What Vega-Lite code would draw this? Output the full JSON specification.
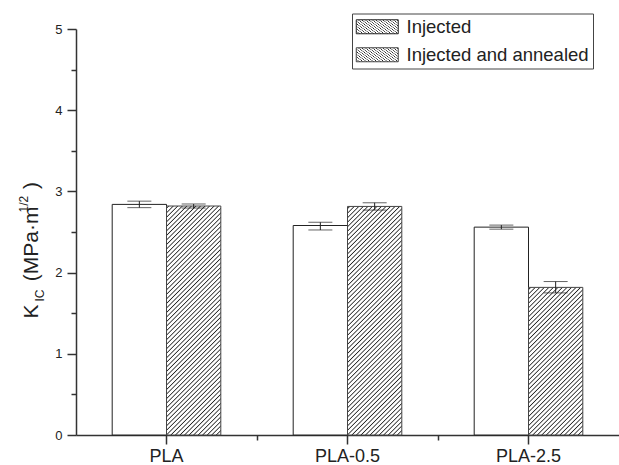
{
  "$schema": "https://vega.github.io/schema/vega-lite/v6.json",
  "width": 543,
  "height": 406,
  "autosize": "none",
  "padding": {"left": 76, "top": 29, "right": 0, "bottom": 30},
  "background": "white",
  "config": {
    "view": {"stroke": null},
    "font": "Liberation Sans",
    "axis": {"labelFont": "Liberation Sans", "titleFont": "Liberation Sans", "labelColor": "#222", "titleColor": "#222", "tickColor": "#333", "domainColor": "#333", "grid": false, "titleFontWeight": "normal"}
  },
  "data": {
    "values": [
      {"group": "PLA", "series": "Injected", "value": 2.84, "lo": 2.80, "hi": 2.88},
      {"group": "PLA", "series": "Injected and annealed", "value": 2.82, "lo": 2.795, "hi": 2.845},
      {"group": "PLA-0.5", "series": "Injected", "value": 2.58, "lo": 2.525, "hi": 2.62},
      {"group": "PLA-0.5", "series": "Injected and annealed", "value": 2.815, "lo": 2.77, "hi": 2.86},
      {"group": "PLA-2.5", "series": "Injected", "value": 2.56, "lo": 2.535, "hi": 2.585},
      {"group": "PLA-2.5", "series": "Injected and annealed", "value": 1.818, "lo": 1.75, "hi": 1.89}
    ]
  },
  "resolve": {"scale": {"x": "independent", "y": "independent"}, "axis": {"x": "independent", "y": "independent"}},
  "layer": [
    {
      "layer": [
        {
          "mark": {"type": "bar", "strokeWidth": 1},
          "encoding": {
            "x": {"field": "group", "type": "nominal", "scale": {"domain": ["PLA", "PLA-0.5", "PLA-2.5"], "paddingInner": 0.4, "paddingOuter": 0.2},
              "axis": {"title": null, "orient": "bottom", "labelFontSize": 18, "labelAngle": 0, "labelPadding": 3, "tickSize": 9, "tickWidth": 1.5, "domainWidth": 1.5}},
            "xOffset": {"field": "series", "type": "nominal", "scale": {"domain": ["Injected", "Injected and annealed"], "paddingInner": 0, "paddingOuter": 0}},
            "y": {"field": "value", "type": "quantitative", "scale": {"domain": [0, 5], "nice": false, "zero": true},
              "axis": {"orient": "left", "values": [0, 1, 2, 3, 4, 5], "format": "d", "labelFontSize": 13, "labelPadding": 5, "tickSize": 9, "tickWidth": 1.5, "domainWidth": 1.5,
                "title": "K\u00a0\u00a0\u00a0\u00a0(MPa·m\u00a0\u00a0\u00a0)", "titleFontSize": 21, "titleAngle": 270, "titleAlign": "left", "titleBaseline": "alphabetic", "titleX": -39, "titleY": 289}},
            "stroke": {"field": "series", "type": "nominal", "scale": {"domain": ["Injected", "Injected and annealed"], "range": ["#222222", "#444444"]},
              "legend": {"title": null, "orient": "none", "legendX": 276, "legendY": -15.5, "direction": "vertical", "padding": 4, "strokeColor": "#444", "fillColor": "white", "cornerRadius": 0,
                "labelFont": "Liberation Sans", "labelFontSize": 18.5, "labelColor": "#222", "labelLimit": 400, "symbolType": "M-3,-1H3V1H-3Z", "symbolSize": 196, "symbolStrokeWidth": 1, "symbolFillColor": "#ffffff", "symbolOffset": 12, "labelOffset": 20, "rowPadding": 9,
                "encode": {"symbols": {
                  "fill": {"value": "#ffffff"},
                  "stroke": {"value": "#333333"},
                  "shape": {"condition": {"test": "datum.value === 'Injected and annealed'", "value": "M-3,-1H3V1H-3Z M-3,-0.57L-2.57,-1 M-3,0.14L-1.86,-1 M-3,0.86L-1.14,-1 M-2.43,1L-0.43,-1 M-1.71,1L0.29,-1 M-1,1L1,-1 M-0.29,1L1.71,-1 M0.43,1L2.43,-1 M1.14,1L3,-0.86 M1.86,1L3,-0.14 M2.57,1L3,0.57"}, "value": "M-3,-1H3V1H-3Z"}
                }}}},
            "fill": {
              "condition": [
                {"test": "datum.series === 'Injected'", "value": "#ffffff"},
                {"test": "datum.group === 'PLA-2.5'", "value": {"gradient": "linear", "x1": 0, "y1": 0, "x2": 0.62194, "y2": 1.69062, "stops": [
{"offset":0.004,"color":"#fff"},{"offset":0.008,"color":"#222"},{"offset":0.012,"color":"#fff"},
{"offset":0.020,"color":"#fff"},{"offset":0.024,"color":"#222"},{"offset":0.028,"color":"#fff"},
{"offset":0.036,"color":"#fff"},{"offset":0.040,"color":"#222"},{"offset":0.044,"color":"#fff"},
{"offset":0.052,"color":"#fff"},{"offset":0.056,"color":"#222"},{"offset":0.060,"color":"#fff"},
{"offset":0.068,"color":"#fff"},{"offset":0.072,"color":"#222"},{"offset":0.076,"color":"#fff"},
{"offset":0.084,"color":"#fff"},{"offset":0.088,"color":"#222"},{"offset":0.092,"color":"#fff"},
{"offset":0.100,"color":"#fff"},{"offset":0.104,"color":"#222"},{"offset":0.108,"color":"#fff"},
{"offset":0.116,"color":"#fff"},{"offset":0.120,"color":"#222"},{"offset":0.124,"color":"#fff"},
{"offset":0.132,"color":"#fff"},{"offset":0.136,"color":"#222"},{"offset":0.140,"color":"#fff"},
{"offset":0.148,"color":"#fff"},{"offset":0.152,"color":"#222"},{"offset":0.156,"color":"#fff"},
{"offset":0.164,"color":"#fff"},{"offset":0.168,"color":"#222"},{"offset":0.172,"color":"#fff"},
{"offset":0.180,"color":"#fff"},{"offset":0.184,"color":"#222"},{"offset":0.188,"color":"#fff"},
{"offset":0.196,"color":"#fff"},{"offset":0.200,"color":"#222"},{"offset":0.204,"color":"#fff"},
{"offset":0.212,"color":"#fff"},{"offset":0.216,"color":"#222"},{"offset":0.220,"color":"#fff"},
{"offset":0.228,"color":"#fff"},{"offset":0.232,"color":"#222"},{"offset":0.236,"color":"#fff"},
{"offset":0.244,"color":"#fff"},{"offset":0.248,"color":"#222"},{"offset":0.252,"color":"#fff"},
{"offset":0.260,"color":"#fff"},{"offset":0.264,"color":"#222"},{"offset":0.268,"color":"#fff"},
{"offset":0.276,"color":"#fff"},{"offset":0.280,"color":"#222"},{"offset":0.284,"color":"#fff"},
{"offset":0.292,"color":"#fff"},{"offset":0.296,"color":"#222"},{"offset":0.300,"color":"#fff"},
{"offset":0.308,"color":"#fff"},{"offset":0.312,"color":"#222"},{"offset":0.316,"color":"#fff"},
{"offset":0.324,"color":"#fff"},{"offset":0.328,"color":"#222"},{"offset":0.332,"color":"#fff"},
{"offset":0.340,"color":"#fff"},{"offset":0.344,"color":"#222"},{"offset":0.348,"color":"#fff"},
{"offset":0.356,"color":"#fff"},{"offset":0.360,"color":"#222"},{"offset":0.364,"color":"#fff"},
{"offset":0.372,"color":"#fff"},{"offset":0.376,"color":"#222"},{"offset":0.380,"color":"#fff"},
{"offset":0.388,"color":"#fff"},{"offset":0.392,"color":"#222"},{"offset":0.396,"color":"#fff"},
{"offset":0.404,"color":"#fff"},{"offset":0.408,"color":"#222"},{"offset":0.412,"color":"#fff"},
{"offset":0.420,"color":"#fff"},{"offset":0.424,"color":"#222"},{"offset":0.428,"color":"#fff"},
{"offset":0.436,"color":"#fff"},{"offset":0.440,"color":"#222"},{"offset":0.444,"color":"#fff"},
{"offset":0.452,"color":"#fff"},{"offset":0.456,"color":"#222"},{"offset":0.460,"color":"#fff"},
{"offset":0.468,"color":"#fff"},{"offset":0.472,"color":"#222"},{"offset":0.476,"color":"#fff"},
{"offset":0.484,"color":"#fff"},{"offset":0.488,"color":"#222"},{"offset":0.492,"color":"#fff"},
{"offset":0.500,"color":"#fff"},{"offset":0.504,"color":"#222"},{"offset":0.508,"color":"#fff"},
{"offset":0.516,"color":"#fff"},{"offset":0.520,"color":"#222"},{"offset":0.524,"color":"#fff"},
{"offset":0.532,"color":"#fff"},{"offset":0.536,"color":"#222"},{"offset":0.540,"color":"#fff"},
{"offset":0.548,"color":"#fff"},{"offset":0.552,"color":"#222"},{"offset":0.556,"color":"#fff"},
{"offset":0.564,"color":"#fff"},{"offset":0.568,"color":"#222"},{"offset":0.572,"color":"#fff"},
{"offset":0.580,"color":"#fff"},{"offset":0.584,"color":"#222"},{"offset":0.588,"color":"#fff"},
{"offset":0.596,"color":"#fff"},{"offset":0.600,"color":"#222"},{"offset":0.604,"color":"#fff"},
{"offset":0.612,"color":"#fff"},{"offset":0.616,"color":"#222"},{"offset":0.620,"color":"#fff"},
{"offset":0.628,"color":"#fff"},{"offset":0.632,"color":"#222"},{"offset":0.636,"color":"#fff"},
{"offset":0.644,"color":"#fff"},{"offset":0.648,"color":"#222"},{"offset":0.652,"color":"#fff"},
{"offset":0.660,"color":"#fff"},{"offset":0.664,"color":"#222"},{"offset":0.668,"color":"#fff"},
{"offset":0.676,"color":"#fff"},{"offset":0.680,"color":"#222"},{"offset":0.684,"color":"#fff"},
{"offset":0.692,"color":"#fff"},{"offset":0.696,"color":"#222"},{"offset":0.700,"color":"#fff"},
{"offset":0.708,"color":"#fff"},{"offset":0.712,"color":"#222"},{"offset":0.716,"color":"#fff"},
{"offset":0.724,"color":"#fff"},{"offset":0.728,"color":"#222"},{"offset":0.732,"color":"#fff"}
                ]}}
              ],
              "value": {"gradient": "linear", "x1": 0, "y1": 0, "x2": 0.27773, "y2": 1.17129, "stops": [
{"offset":0.004,"color":"#fff"},{"offset":0.008,"color":"#222"},{"offset":0.012,"color":"#fff"},
{"offset":0.020,"color":"#fff"},{"offset":0.024,"color":"#222"},{"offset":0.028,"color":"#fff"},
{"offset":0.036,"color":"#fff"},{"offset":0.040,"color":"#222"},{"offset":0.044,"color":"#fff"},
{"offset":0.052,"color":"#fff"},{"offset":0.056,"color":"#222"},{"offset":0.060,"color":"#fff"},
{"offset":0.068,"color":"#fff"},{"offset":0.072,"color":"#222"},{"offset":0.076,"color":"#fff"},
{"offset":0.084,"color":"#fff"},{"offset":0.088,"color":"#222"},{"offset":0.092,"color":"#fff"},
{"offset":0.100,"color":"#fff"},{"offset":0.104,"color":"#222"},{"offset":0.108,"color":"#fff"},
{"offset":0.116,"color":"#fff"},{"offset":0.120,"color":"#222"},{"offset":0.124,"color":"#fff"},
{"offset":0.132,"color":"#fff"},{"offset":0.136,"color":"#222"},{"offset":0.140,"color":"#fff"},
{"offset":0.148,"color":"#fff"},{"offset":0.152,"color":"#222"},{"offset":0.156,"color":"#fff"},
{"offset":0.164,"color":"#fff"},{"offset":0.168,"color":"#222"},{"offset":0.172,"color":"#fff"},
{"offset":0.180,"color":"#fff"},{"offset":0.184,"color":"#222"},{"offset":0.188,"color":"#fff"},
{"offset":0.196,"color":"#fff"},{"offset":0.200,"color":"#222"},{"offset":0.204,"color":"#fff"},
{"offset":0.212,"color":"#fff"},{"offset":0.216,"color":"#222"},{"offset":0.220,"color":"#fff"},
{"offset":0.228,"color":"#fff"},{"offset":0.232,"color":"#222"},{"offset":0.236,"color":"#fff"},
{"offset":0.244,"color":"#fff"},{"offset":0.248,"color":"#222"},{"offset":0.252,"color":"#fff"},
{"offset":0.260,"color":"#fff"},{"offset":0.264,"color":"#222"},{"offset":0.268,"color":"#fff"},
{"offset":0.276,"color":"#fff"},{"offset":0.280,"color":"#222"},{"offset":0.284,"color":"#fff"},
{"offset":0.292,"color":"#fff"},{"offset":0.296,"color":"#222"},{"offset":0.300,"color":"#fff"},
{"offset":0.308,"color":"#fff"},{"offset":0.312,"color":"#222"},{"offset":0.316,"color":"#fff"},
{"offset":0.324,"color":"#fff"},{"offset":0.328,"color":"#222"},{"offset":0.332,"color":"#fff"},
{"offset":0.340,"color":"#fff"},{"offset":0.344,"color":"#222"},{"offset":0.348,"color":"#fff"},
{"offset":0.356,"color":"#fff"},{"offset":0.360,"color":"#222"},{"offset":0.364,"color":"#fff"},
{"offset":0.372,"color":"#fff"},{"offset":0.376,"color":"#222"},{"offset":0.380,"color":"#fff"},
{"offset":0.388,"color":"#fff"},{"offset":0.392,"color":"#222"},{"offset":0.396,"color":"#fff"},
{"offset":0.404,"color":"#fff"},{"offset":0.408,"color":"#222"},{"offset":0.412,"color":"#fff"},
{"offset":0.420,"color":"#fff"},{"offset":0.424,"color":"#222"},{"offset":0.428,"color":"#fff"},
{"offset":0.436,"color":"#fff"},{"offset":0.440,"color":"#222"},{"offset":0.444,"color":"#fff"},
{"offset":0.452,"color":"#fff"},{"offset":0.456,"color":"#222"},{"offset":0.460,"color":"#fff"},
{"offset":0.468,"color":"#fff"},{"offset":0.472,"color":"#222"},{"offset":0.476,"color":"#fff"},
{"offset":0.484,"color":"#fff"},{"offset":0.488,"color":"#222"},{"offset":0.492,"color":"#fff"},
{"offset":0.500,"color":"#fff"},{"offset":0.504,"color":"#222"},{"offset":0.508,"color":"#fff"},
{"offset":0.516,"color":"#fff"},{"offset":0.520,"color":"#222"},{"offset":0.524,"color":"#fff"},
{"offset":0.532,"color":"#fff"},{"offset":0.536,"color":"#222"},{"offset":0.540,"color":"#fff"},
{"offset":0.548,"color":"#fff"},{"offset":0.552,"color":"#222"},{"offset":0.556,"color":"#fff"},
{"offset":0.564,"color":"#fff"},{"offset":0.568,"color":"#222"},{"offset":0.572,"color":"#fff"},
{"offset":0.580,"color":"#fff"},{"offset":0.584,"color":"#222"},{"offset":0.588,"color":"#fff"},
{"offset":0.596,"color":"#fff"},{"offset":0.600,"color":"#222"},{"offset":0.604,"color":"#fff"},
{"offset":0.612,"color":"#fff"},{"offset":0.616,"color":"#222"},{"offset":0.620,"color":"#fff"},
{"offset":0.628,"color":"#fff"},{"offset":0.632,"color":"#222"},{"offset":0.636,"color":"#fff"},
{"offset":0.644,"color":"#fff"},{"offset":0.648,"color":"#222"},{"offset":0.652,"color":"#fff"},
{"offset":0.660,"color":"#fff"},{"offset":0.664,"color":"#222"},{"offset":0.668,"color":"#fff"},
{"offset":0.676,"color":"#fff"},{"offset":0.680,"color":"#222"},{"offset":0.684,"color":"#fff"},
{"offset":0.692,"color":"#fff"},{"offset":0.696,"color":"#222"},{"offset":0.700,"color":"#fff"},
{"offset":0.708,"color":"#fff"},{"offset":0.712,"color":"#222"},{"offset":0.716,"color":"#fff"},
{"offset":0.724,"color":"#fff"},{"offset":0.728,"color":"#222"},{"offset":0.732,"color":"#fff"},
{"offset":0.740,"color":"#fff"},{"offset":0.744,"color":"#222"},{"offset":0.748,"color":"#fff"},
{"offset":0.756,"color":"#fff"},{"offset":0.760,"color":"#222"},{"offset":0.764,"color":"#fff"},
{"offset":0.772,"color":"#fff"},{"offset":0.776,"color":"#222"},{"offset":0.780,"color":"#fff"},
{"offset":0.788,"color":"#fff"},{"offset":0.792,"color":"#222"},{"offset":0.796,"color":"#fff"},
{"offset":0.804,"color":"#fff"},{"offset":0.808,"color":"#222"},{"offset":0.812,"color":"#fff"},
{"offset":0.820,"color":"#fff"},{"offset":0.824,"color":"#222"},{"offset":0.828,"color":"#fff"},
{"offset":0.836,"color":"#fff"},{"offset":0.840,"color":"#222"},{"offset":0.844,"color":"#fff"},
{"offset":0.852,"color":"#fff"},{"offset":0.856,"color":"#222"},{"offset":0.860,"color":"#fff"},
{"offset":0.868,"color":"#fff"},{"offset":0.872,"color":"#222"},{"offset":0.876,"color":"#fff"},
{"offset":0.884,"color":"#fff"},{"offset":0.888,"color":"#222"},{"offset":0.892,"color":"#fff"},
{"offset":0.900,"color":"#fff"},{"offset":0.904,"color":"#222"},{"offset":0.908,"color":"#fff"},
{"offset":0.916,"color":"#fff"},{"offset":0.920,"color":"#222"},{"offset":0.924,"color":"#fff"},
{"offset":0.932,"color":"#fff"},{"offset":0.936,"color":"#222"},{"offset":0.940,"color":"#fff"},
{"offset":0.948,"color":"#fff"},{"offset":0.952,"color":"#222"},{"offset":0.956,"color":"#fff"},
{"offset":0.964,"color":"#fff"},{"offset":0.968,"color":"#222"},{"offset":0.972,"color":"#fff"},
{"offset":0.980,"color":"#fff"},{"offset":0.984,"color":"#222"},{"offset":0.988,"color":"#fff"}
              ]}
            }
          }
        },
        {
          "mark": {"type": "rule", "color": "#222", "strokeWidth": 1},
          "encoding": {
            "x": {"field": "group", "type": "nominal"},
            "xOffset": {"field": "series", "type": "nominal"},
            "y": {"field": "lo", "type": "quantitative"},
            "y2": {"field": "hi"}
          }
        },
        {
          "mark": {"type": "tick", "color": "#222", "thickness": 1, "size": 24, "orient": "horizontal"},
          "encoding": {
            "x": {"field": "group", "type": "nominal"},
            "xOffset": {"field": "series", "type": "nominal"},
            "y": {"field": "lo", "type": "quantitative"}
          }
        },
        {
          "mark": {"type": "tick", "color": "#222", "thickness": 1, "size": 24, "orient": "horizontal"},
          "encoding": {
            "x": {"field": "group", "type": "nominal"},
            "xOffset": {"field": "series", "type": "nominal"},
            "y": {"field": "hi", "type": "quantitative"}
          }
        }
      ]
    },
    {
      "mark": {"type": "point", "opacity": 0},
      "encoding": {
        "x": {"datum": 1, "type": "quantitative", "scale": {"domain": [-0.5, 2.5], "nice": false, "zero": false},
          "axis": {"orient": "bottom", "values": [0.5, 1.5], "labels": false, "domain": false, "tickSize": 5, "tickWidth": 1.5,
            "title": "1/2", "titleFontSize": 12, "titleAngle": 270, "titleAlign": "left", "titleBaseline": "alphabetic", "titleX": -49, "titleY": -223}},
        "y": {"datum": 1, "type": "quantitative", "scale": {"domain": [0, 5], "nice": false, "zero": false},
          "axis": {"orient": "left", "values": [0.5, 1.5, 2.5, 3.5, 4.5], "labels": false, "domain": false, "tickSize": 5, "tickWidth": 1.5,
            "title": "IC", "titleFontSize": 12, "titleAngle": 270, "titleAlign": "left", "titleBaseline": "alphabetic", "titleX": -33, "titleY": 272}}
      }
    }
  ]
}
